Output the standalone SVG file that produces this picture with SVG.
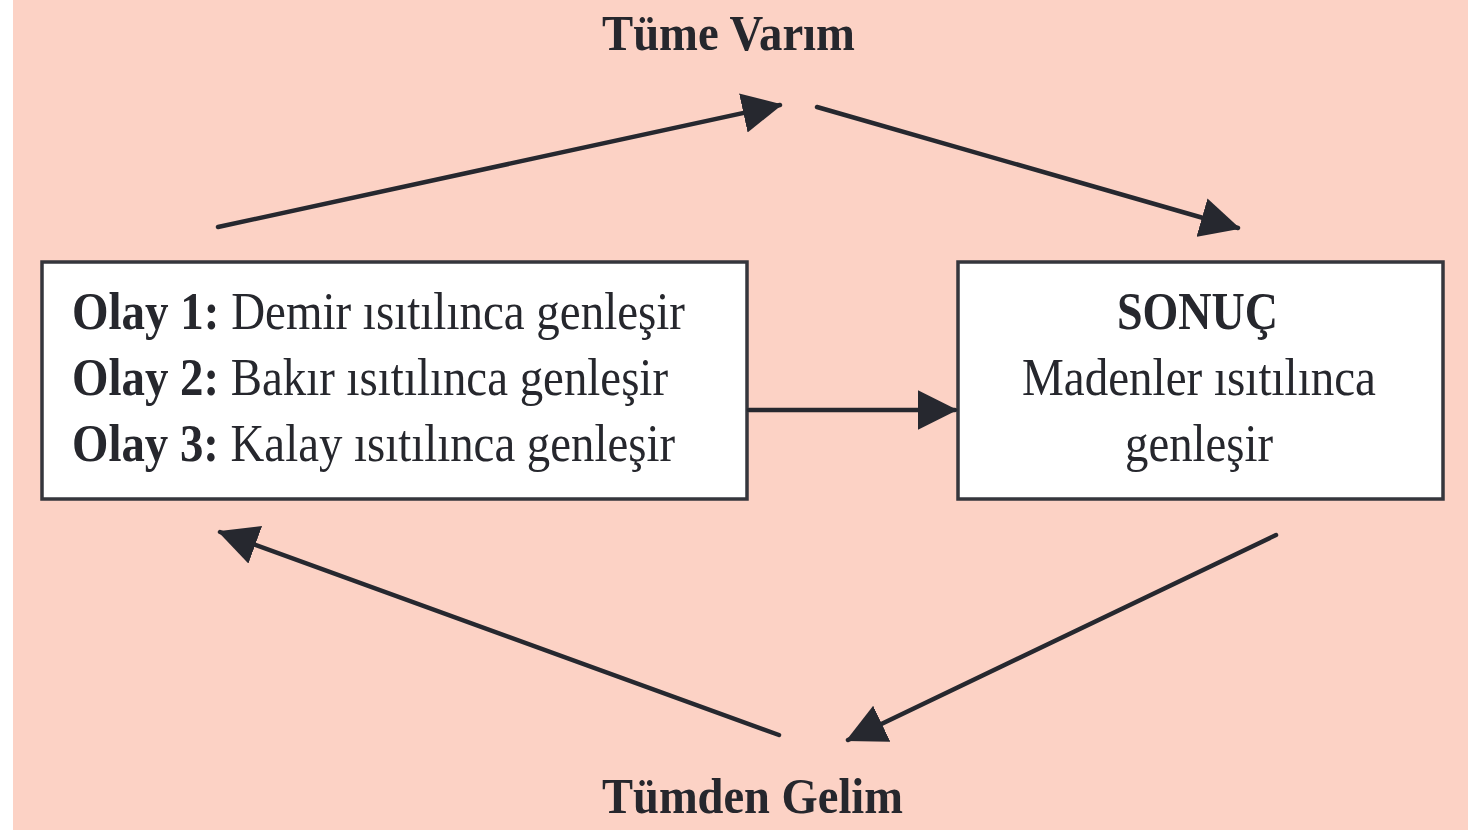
<svg xmlns="http://www.w3.org/2000/svg" width="1468" height="830" viewBox="0 0 1468 830">
<style>
.bg{fill:#fcd2c5}
.box{fill:#ffffff;stroke:#35363c;stroke-width:3.5}
.t{font-family:"Liberation Serif","Times New Roman",serif;fill:#26272d}
.b{font-weight:bold}
.conn{stroke:#26282f;stroke-width:4.5;fill:none;stroke-linecap:round}
</style>
<defs>
<marker id="ah" markerUnits="userSpaceOnUse" markerWidth="40" markerHeight="40" viewBox="0 0 32 32" refX="30" refY="16" orient="auto">
<path d="M0,0 L32,16 L0,32 Z" fill="#26282f"/>
</marker>
</defs>
<rect x="0" y="0" width="1468" height="830" fill="#ffffff"/>
<rect class="bg" x="13" y="0" width="1455" height="830"/>
<g id="label-top">
<text class="t b" x="602" y="50" font-size="51" textLength="253" lengthAdjust="spacingAndGlyphs">Tüme Varım</text>
</g>
<g id="label-bottom">
<text class="t b" x="602" y="813" font-size="51" textLength="301" lengthAdjust="spacingAndGlyphs">Tümden Gelim</text>
</g>
<g id="node-olaylar">
<rect class="box" x="42" y="262" width="705" height="237"/>
<text class="t" x="72" y="329" font-size="52" textLength="613" lengthAdjust="spacingAndGlyphs"><tspan class="b">Olay 1:</tspan> Demir ısıtılınca genleşir</text>
<text class="t" x="72" y="395" font-size="52" textLength="596" lengthAdjust="spacingAndGlyphs"><tspan class="b">Olay 2:</tspan> Bakır ısıtılınca genleşir</text>
<text class="t" x="72" y="461" font-size="52" textLength="603" lengthAdjust="spacingAndGlyphs"><tspan class="b">Olay 3:</tspan> Kalay ısıtılınca genleşir</text>
</g>
<g id="node-sonuc">
<rect class="box" x="958" y="262" width="485" height="237"/>
<text class="t b" x="1117" y="329" font-size="52" textLength="161" lengthAdjust="spacingAndGlyphs">SONUÇ</text>
<text class="t" x="1022" y="395" font-size="52" textLength="354" lengthAdjust="spacingAndGlyphs">Madenler ısıtılınca</text>
<text class="t" x="1125" y="461" font-size="52" textLength="148" lengthAdjust="spacingAndGlyphs">genleşir</text>
</g>
<g id="connectors">
<line class="conn" x1="218" y1="227" x2="780" y2="105" marker-end="url(#ah)"/>
<line class="conn" x1="817" y1="107" x2="1238" y2="228" marker-end="url(#ah)"/>
<line class="conn" x1="749" y1="410" x2="955" y2="410" marker-end="url(#ah)"/>
<line class="conn" x1="1276" y1="535" x2="848" y2="740" marker-end="url(#ah)"/>
<line class="conn" x1="779" y1="735" x2="220" y2="532" marker-end="url(#ah)"/>
</g>
</svg>
